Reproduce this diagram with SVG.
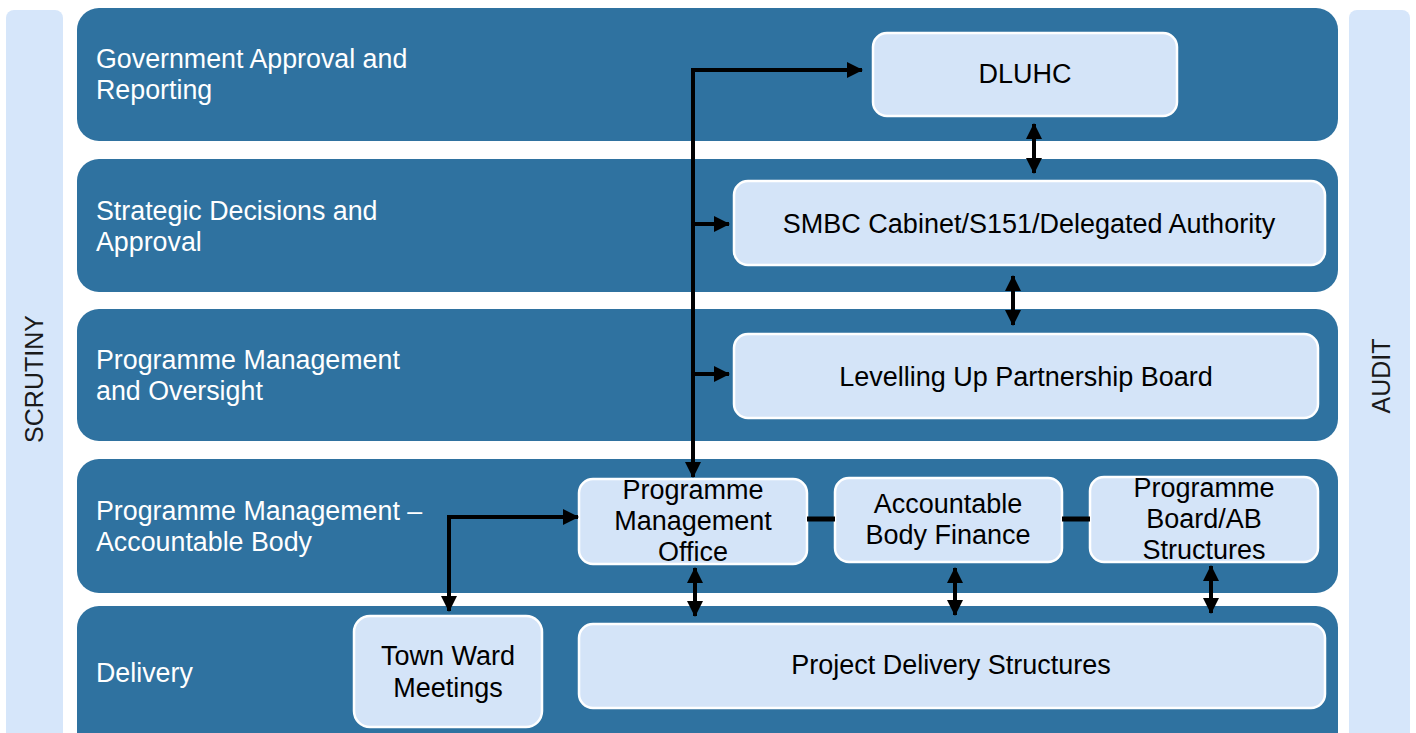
<svg xmlns="http://www.w3.org/2000/svg" width="1416" height="733" viewBox="0 0 1416 733">
<defs>
<marker id="ah" viewBox="0 0 16 16" refX="15" refY="8" markerWidth="16" markerHeight="16" markerUnits="userSpaceOnUse" orient="auto-start-reverse">
<path d="M0,0 L16,8 L0,16 z" fill="#000"/>
</marker>
</defs>
<style>
.bar{fill:#D6E6FA}
.band{fill:#2F72A0}
.node{fill:#D4E4F8;stroke:#FFFFFF;stroke-width:2.5}
.bl{font-family:"Liberation Sans",Arial,sans-serif;font-size:26.8px;fill:#FFFFFF}
.nt{font-family:"Liberation Sans",Arial,sans-serif;font-size:27px;fill:#000000;text-anchor:middle}
.side{font-family:"Liberation Sans",Arial,sans-serif;font-size:25px;fill:#1a1a1a;text-anchor:middle}
.c{fill:none;stroke:#000;stroke-width:4}
.ca{fill:none;stroke:#000;stroke-width:4;marker-end:url(#ah)}
.cd{fill:none;stroke:#000;stroke-width:4;marker-end:url(#ah);marker-start:url(#ah)}
</style>
<rect width="1416" height="733" fill="#FFFFFF"/>
<g id="scrutiny">
<rect class="bar" x="6" y="10" width="57" height="740" rx="8"/>
<text class="side" transform="translate(43,379) rotate(-90)">SCRUTINY</text>
</g>
<g id="audit">
<rect class="bar" x="1349" y="10" width="61" height="740" rx="8"/>
<text class="side" transform="translate(1390,376) rotate(-90)">AUDIT</text>
</g>
<g id="band-gov">
<rect class="band" x="77" y="8" width="1261" height="133" rx="22"/>
<text class="bl" x="96" y="68">Government Approval and</text>
<text class="bl" x="96" y="99">Reporting</text>
</g>
<g id="band-strategic">
<rect class="band" x="77" y="159" width="1261" height="133" rx="22"/>
<text class="bl" x="96" y="220">Strategic Decisions and</text>
<text class="bl" x="96" y="251">Approval</text>
</g>
<g id="band-oversight">
<rect class="band" x="77" y="309" width="1261" height="132" rx="22"/>
<text class="bl" x="96" y="369">Programme Management</text>
<text class="bl" x="96" y="400">and Oversight</text>
</g>
<g id="band-ab">
<rect class="band" x="77" y="459" width="1261" height="134" rx="22"/>
<text class="bl" x="96" y="520">Programme Management –</text>
<text class="bl" x="96" y="551">Accountable Body</text>
</g>
<g id="band-delivery">
<rect class="band" x="77" y="606" width="1261" height="160" rx="22"/>
<text class="bl" x="96" y="682">Delivery</text>
</g>
<g id="dluhc">
<rect class="node" x="873" y="33" width="304" height="83" rx="14"/>
<text class="nt" x="1025" y="83">DLUHC</text>
</g>
<g id="smbc">
<rect class="node" x="734" y="181" width="591" height="84" rx="14"/>
<text class="nt" x="1029" y="233">SMBC Cabinet/S151/Delegated Authority</text>
</g>
<g id="lupb">
<rect class="node" x="734" y="334" width="584" height="84" rx="14"/>
<text class="nt" x="1026" y="386">Levelling Up Partnership Board</text>
</g>
<g id="pmo">
<rect class="node" x="579" y="479" width="228" height="85" rx="14"/>
<text class="nt" x="693" y="499">Programme</text>
<text class="nt" x="693" y="530">Management</text>
<text class="nt" x="693" y="561">Office</text>
</g>
<g id="abf">
<rect class="node" x="835" y="478" width="227" height="84" rx="14"/>
<text class="nt" x="948" y="513">Accountable</text>
<text class="nt" x="948" y="544">Body Finance</text>
</g>
<g id="pbab">
<rect class="node" x="1090" y="477" width="228" height="85" rx="14"/>
<text class="nt" x="1204" y="497">Programme</text>
<text class="nt" x="1204" y="528">Board/AB</text>
<text class="nt" x="1204" y="559">Structures</text>
</g>
<g id="townward">
<rect class="node" x="354" y="616" width="188" height="111" rx="16"/>
<text class="nt" x="448" y="665">Town Ward</text>
<text class="nt" x="448" y="697">Meetings</text>
</g>
<g id="pds">
<rect class="node" x="579" y="624" width="746" height="84" rx="14"/>
<text class="nt" x="951" y="674">Project Delivery Structures</text>
</g>
<g id="connectors">
<path class="ca" d="M693,70 L862,70"/>
<path class="ca" d="M693,68 L693,477"/>
<path class="ca" d="M693,224 L729,224"/>
<path class="ca" d="M693,374 L729,374"/>
<path class="cd" d="M1034,124 L1034,173"/>
<path class="cd" d="M1013,276 L1013,325"/>
<path class="cd" d="M449,611 L449,517 L578,517"/>
<path class="cd" d="M695,568 L695,616"/>
<path class="cd" d="M955,568 L955,615"/>
<path class="cd" d="M1211,566 L1211,613"/>
<path class="c" style="stroke-width:5" d="M807,519 L835,519"/>
<path class="c" style="stroke-width:5" d="M1062,519 L1090,519"/>
</g>
</svg>
